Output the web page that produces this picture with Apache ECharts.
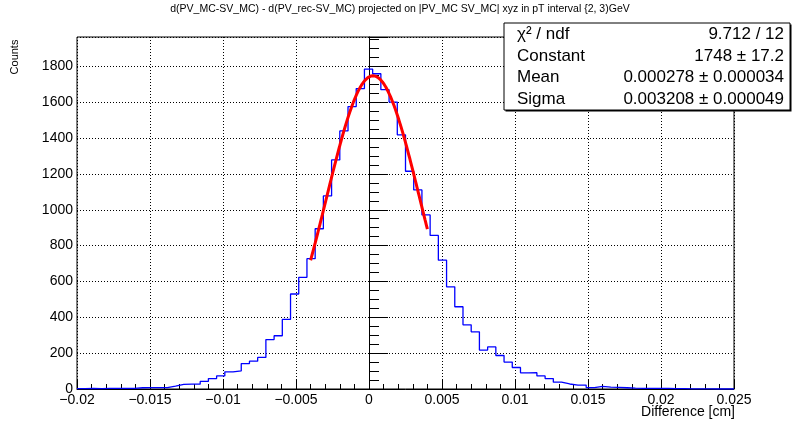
<!DOCTYPE html>
<html><head><meta charset="utf-8">
<script src="https://cdn.jsdelivr.net/npm/echarts@6/dist/echarts.min.js"></script>
<style>html,body{margin:0;padding:0;background:#fff}#c{width:798px;height:426px}</style>
</head><body><div id="c"></div>
<script>
// ---- data ----
const titleText = "d(PV_MC-SV_MC) - d(PV_rec-SV_MC) projected on |PV_MC SV_MC| xyz in pT interval {2, 3)GeV";
const xName = "Difference [cm]";
const yName = "Counts";
const xMin = -0.02, xMax = 0.025, nBins = 80;
const yMax = 1964;
const counts = [
  2, 3, 2, 3, 3, 4, 4, 7, 8, 8,
  8, 16, 26, 27, 27, 42, 58, 73, 96, 101,
  142, 155, 176, 276, 297, 388, 530, 623, 727, 894,
  1077, 1278, 1440, 1576, 1676, 1785, 1759, 1670, 1601, 1418,
  1215, 1111, 971, 857, 719, 570, 459, 358, 319, 217,
  235, 187, 150, 120, 90, 91, 73, 58, 38, 28,
  22, 22, 8, 15, 11, 9, 7, 5, 4, 4,
  4, 3, 2, 2, 1, 1, 1, 0, 1, 0
];
const fitConstant = 1748, fitMean = 0.000278, fitSigma = 0.003208;
const fitRange = [-0.004, 0.004];
const statsLabels = ["χ² / ndf", "Constant", "Mean", "Sigma"];
const statsValues = ["9.712 / 12", "1748 ± 17.2", "0.000278 ± 0.000034", "0.003208 ± 0.000049"];

// ---- build ----
const FONT = "'Liberation Sans', Arial, Helvetica, sans-serif";
const binW = (xMax - xMin) / nBins;
const histPts = [];
counts.forEach((c, i) => {
  histPts.push([xMin + i * binW, c]);
  histPts.push([xMin + (i + 1) * binW, c]);
});
const fitPts = [];
const nFit = 200;
for (let i = 0; i <= nFit; i++) {
  const x = fitRange[0] + (fitRange[1] - fitRange[0]) * i / nFit;
  const z = (x - fitMean) / fitSigma;
  fitPts.push([x, fitConstant * Math.exp(-0.5 * z * z)]);
}

const grid = { left: 77, right: 64, top: 37, bottom: 37 };
const boxX = 504, boxY = 23, boxW = 286, boxH = 87;
const rowY = [34.5, 56, 77.5, 99];

const graphics = [
  { type: 'text', x: 400, y: 9, style: { text: titleText, font: '10.5px ' + FONT, fill: '#000', align: 'center', verticalAlign: 'middle' } },
  { type: 'text', x: 15, y: 57, rotation: Math.PI / 2, style: { text: yName, font: '11px ' + FONT, fill: '#000', align: 'center', verticalAlign: 'middle' } },
  { type: 'text', x: 735, y: 412, style: { text: xName, font: '14px ' + FONT, fill: '#000', align: 'right', verticalAlign: 'middle' } },
  { type: 'rect', shape: { x: boxX + 1.5, y: boxY + 1.5, width: boxW, height: boxH }, style: { fill: '#000' }, z: 10 },
  { type: 'rect', shape: { x: boxX, y: boxY, width: boxW, height: boxH }, style: { fill: '#fff', stroke: '#000', lineWidth: 1 }, z: 11 }
];
statsLabels.forEach((t, i) => {
  graphics.push({ type: 'text', x: boxX + 13, y: rowY[i], z: 12, style: { text: t, font: '17px ' + FONT, fill: '#000', align: 'left', verticalAlign: 'middle' } });
  graphics.push({ type: 'text', x: boxX + boxW - 6, y: rowY[i], z: 12, style: { text: statsValues[i], font: '17px ' + FONT, fill: '#000', align: 'right', verticalAlign: 'middle' } });
});

const fmtX = v => {
  const s = String(parseFloat(v.toFixed(4)));
  return s.replace('-', '\u2212');
};

const chart = echarts.init(document.getElementById('c'), null, { renderer: 'canvas' });
chart.setOption({
  animation: false,
  backgroundColor: '#fff',
  grid: Object.assign({ show: true, borderColor: '#000', borderWidth: 1, backgroundColor: 'transparent' }, grid),
  xAxis: {
    type: 'value', min: xMin, max: xMax, interval: 0.005,
    axisLine: { show: true, onZero: false, lineStyle: { color: '#000', width: 1 } },
    axisTick: { show: true, inside: true, length: 10, lineStyle: { color: '#000' } },
    minorTick: { show: true, splitNumber: 5, length: 5, lineStyle: { color: '#000' } },
    splitLine: { show: true, lineStyle: { color: '#000', type: [1, 2], width: 1 } },
    axisLabel: { margin: 4, fontSize: 14, color: '#000', fontFamily: FONT, formatter: fmtX }
  },
  yAxis: {
    type: 'value', min: 0, max: yMax, interval: 200,
    axisLine: { show: true, lineStyle: { color: '#000', width: 1 } },
    axisTick: { show: true, inside: true, length: 19, lineStyle: { color: '#000' } },
    minorTick: { show: true, splitNumber: 4, length: 10, lineStyle: { color: '#000' } },
    splitLine: { show: true, lineStyle: { color: '#000', type: [1, 2], width: 1 } },
    axisLabel: { margin: 4, fontSize: 14, color: '#000', fontFamily: FONT,
      formatter: v => (Math.round(v) % 200 === 0 ? String(Math.round(v)) : '') }
  },
  series: [
    { type: 'line', data: histPts, symbol: 'none', lineStyle: { color: '#0000ff', width: 1.3 }, z: 3 },
    { type: 'line', data: fitPts, symbol: 'none', smooth: false, lineStyle: { color: '#ff0000', width: 3 }, z: 4 }
  ],
  graphic: graphics
});
</script>
</body></html>
